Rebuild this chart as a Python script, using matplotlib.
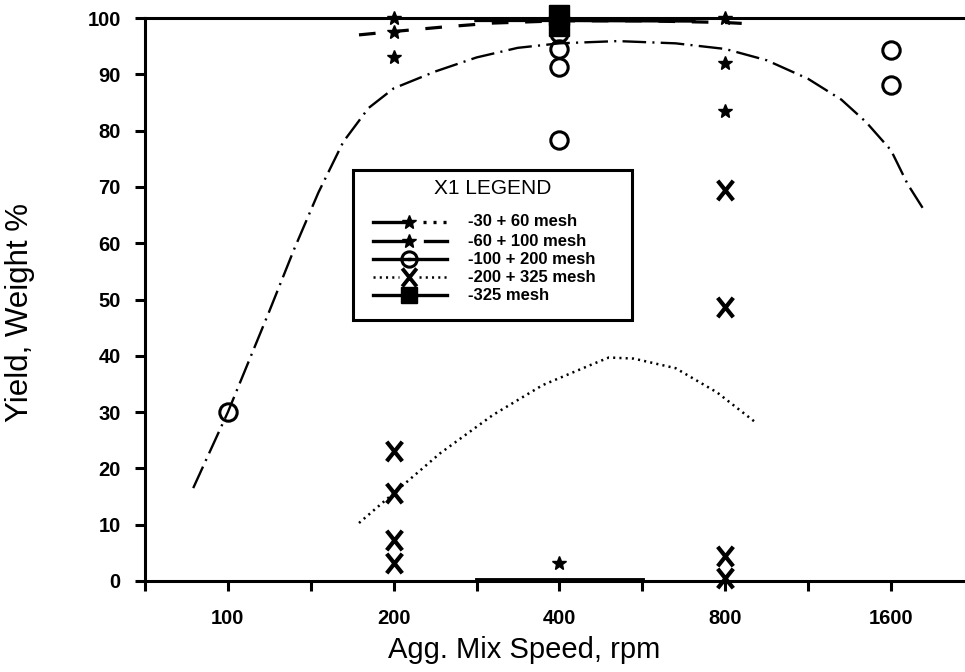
import matplotlib
matplotlib.use('Agg')
import matplotlib.pyplot as plt
from matplotlib.lines import Line2D
from matplotlib.patches import Rectangle
from matplotlib.path import Path
from matplotlib.transforms import Affine2D
from matplotlib.ticker import FixedLocator, NullFormatter, FixedFormatter

plt.rcParams['font.family'] = ['Liberation Sans', 'DejaVu Sans']
plt.rcParams['lines.scale_dashes'] = False

# ---------------- data ----------------
x_ticks = [100, 200, 400, 800, 1600]
x_tick_labels = ['100', '200', '400', '800', '1600']
x_minor = [70.71, 141.4, 282.8, 565.7, 1131.4]
y_ticks = [0, 10, 20, 30, 40, 50, 60, 70, 80, 90, 100]

# -30 + 60 mesh (stars)
s3060_x = [200, 200, 400, 800, 800]
s3060_y = [100, 93, 3.2, 92, 83.5]
s3060_line_x = [283, 566]
s3060_line_y = [0.2, 0.2]

# -60 + 100 mesh (stars) and its dashed curve
s60100_x = [200, 800]
s60100_y = [97.5, 100]
c60100_x = [173, 200, 246, 303, 400, 566, 800, 913]
c60100_y = [97.0, 97.6, 98.4, 99.1, 99.5, 99.5, 99.2, 98.9]

# -100 + 200 mesh (circles) and its dash-dot curve
o_x = [100, 400, 400, 400, 400, 1600, 1600]
o_y = [30, 78.3, 91.3, 94.5, 97.4, 94.3, 88.1]
c100200_x = [86.5, 100, 107, 119, 132, 146, 162, 180, 200, 238, 283, 336,
             400, 510, 650, 800, 951, 1131, 1300, 1442, 1600, 1715, 1850]
c100200_y = [16.5, 30, 37, 48, 59, 69, 78, 84, 87.5, 90.5, 93, 94.7,
             95.5, 95.9, 95.5, 94.5, 92.5, 89.2, 85.5, 81.5, 76.5, 70.5, 65.4]

# -200 + 325 mesh (X) and its dotted curve
x_x = [200, 200, 200, 200, 800, 800, 800, 800]
x_y = [23.1, 15.6, 7.3, 3.2, 69.4, 48.7, 4.5, 0.5]
c200325_x = [173, 200, 243, 303, 373, 459, 492, 546, 650, 773, 913]
c200325_y = [10.3, 15.6, 22.7, 29.5, 34.8, 38.5, 39.7, 39.5, 37.8, 33.5, 28]

# -325 mesh (squares) and its solid line
sq_x = [400, 400]
sq_y = [100.5, 98.6]
c325_x = [283, 400, 700]
c325_y = [99.7, 99.7, 99.6]

legend_title = 'X1 LEGEND'
legend_labels = ['-30 + 60 mesh', '-60 + 100 mesh', '-100 + 200 mesh',
                 '-200 + 325 mesh', '-325 mesh']

# ---------------- styles ----------------
DASHDOT = (0, (17, 4.5, 1.5, 4.5))
DOTTED = (0, (1.5, 3))
DASHED = (0, (12, 12))
XMARK = Path([(-0.40, -0.5), (0.40, 0.5), (-0.40, 0.5), (0.40, -0.5)],
             [Path.MOVETO, Path.LINETO, Path.MOVETO, Path.LINETO])

W, H = 965, 672
fig = plt.figure(figsize=(W / 100, H / 100), dpi=100)
ax = fig.add_axes([145 / W, 1 - 581 / H, 1 - 145 / W, (581 - 18) / H])

ax.set_xscale('log', base=2)
ax.set_xlim(70.71, 2180)
ax.set_ylim(0, 100)

# curves
ax.plot(c100200_x, c100200_y, color='k', lw=1.7, ls=DASHDOT, zorder=2)
ax.plot(c200325_x, c200325_y, color='k', lw=1.8, ls=DOTTED, zorder=2)
ax.plot(c60100_x, c60100_y, color='k', lw=2.3, ls=DASHED, zorder=2)
ax.plot(c325_x, c325_y, color='k', lw=3.5, ls='-', zorder=2, clip_on=False)
ax.plot(s3060_line_x, s3060_line_y, color='k', lw=3.5, ls='-', zorder=2, clip_on=False)

# markers
ax.plot(s3060_x, s3060_y, ls='none', marker='*', ms=10, color='k', clip_on=False, zorder=4)
ax.plot(s60100_x, s60100_y, ls='none', marker='*', ms=10, color='k', clip_on=False, zorder=4)
ax.plot(o_x, o_y, ls='none', marker='o', ms=12.5, mfc='none', mec='k', mew=2.2,
        clip_on=False, zorder=4)
ax.plot(x_x, x_y, ls='none', marker=XMARK, ms=14, mfc='none', mec='k', mew=3,
        clip_on=False, zorder=4)
ax.plot(sq_x, sq_y, ls='none', marker='s', ms=14, color='k', clip_on=False, zorder=5)

# axes styling
for side in ['left', 'bottom', 'top']:
    ax.spines[side].set_linewidth(2.2)
ax.spines['right'].set_visible(False)

ax.xaxis.set_major_locator(FixedLocator(x_ticks))
ax.xaxis.set_major_formatter(FixedFormatter(x_tick_labels))
ax.xaxis.set_minor_locator(FixedLocator(x_minor))
ax.xaxis.set_minor_formatter(NullFormatter())
ax.set_yticks(y_ticks)
ax.tick_params(axis='both', which='both', direction='out', length=7.5, width=2.2,
               top=False, right=False, labelsize=14.5)
ax.tick_params(axis='x', which='major', pad=13)
ax.tick_params(axis='y', which='major', pad=10)
for lab in ax.get_xticklabels() + ax.get_yticklabels():
    lab.set_fontweight('bold')

ax.set_xlabel('Agg. Mix Speed, rpm', fontsize=21)
ax.set_ylabel('Yield, Weight %', fontsize=22.5)
ax.xaxis.set_label_coords((524 - 145) / 820, (581 - 636) / 563)
ax.yaxis.set_label_coords((35 - 145) / 820, (581 - 313) / 563)

# ---------------- legend (drawn in pixel coordinates) ----------------
pix = Affine2D().scale(1 / W, -1 / H).translate(0, 1) + fig.transFigure
box_l, box_t, box_r, box_b = 353, 170, 632, 320
fig.add_artist(Rectangle((box_l, box_t), box_r - box_l, box_b - box_t,
                         transform=pix, facecolor='white', edgecolor='k',
                         lw=2.2, zorder=10))
fig.text(493, 189, legend_title, transform=pix, fontsize=15,
         ha='center', va='center', zorder=11)

row_y = [222, 241, 259, 277, 295]
hx0, hxm, hx1, tx = 373, 409, 447, 468
handles = [
    dict(left='-', right=(0, (2.2, 5)), marker='*', ms=10, mfc='k', mew=1, lw=2.4,
         lstop=404, rstart=423),
    dict(left='-', right='-', marker='*', ms=10, mfc='k', mew=1, lw=2.4,
         lstop=404, rstart=425),
    dict(left='-', right='-', marker='o', ms=11, mfc='none', mew=2.2, lw=2.4,
         lstop=hxm, rstart=hxm),
    dict(left=DOTTED, right=DOTTED, marker=XMARK, ms=13, mfc='none', mew=2.8,
         lw=1.8, lstop=399, rstart=419),
    dict(left='-', right='-', marker='s', ms=12, mfc='k', mew=1, lw=2.4,
         lstop=hxm, rstart=hxm),
]
for y, h, lab in zip(row_y, handles, legend_labels):
    fig.add_artist(Line2D([hx0, h['lstop']], [y, y], transform=pix, color='k',
                          lw=h['lw'], ls=h['left'], zorder=11))
    fig.add_artist(Line2D([h['rstart'], hx1], [y, y], transform=pix, color='k',
                          lw=h['lw'], ls=h['right'], zorder=11))
    fig.add_artist(Line2D([hxm], [y], transform=pix, ls='none', marker=h['marker'],
                          ms=h['ms'], mfc=h['mfc'], mec='k', mew=h['mew'], zorder=12))
    fig.text(tx, y, lab, transform=pix, fontsize=12, fontweight='bold',
             ha='left', va='center', zorder=12)

fig.savefig('out.png', dpi=100)
